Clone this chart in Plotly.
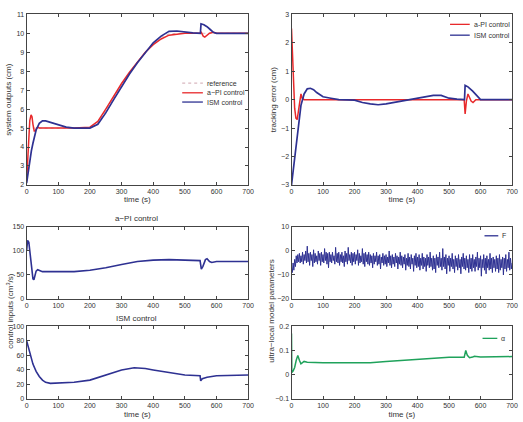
import plotly.graph_objects as go

# ---------------- data ----------------
t_ref = [0, 200, 225, 250, 275, 300, 325, 350, 375, 400, 425, 450, 475, 700]
y_ref = [5, 5, 5.25, 5.9, 6.6, 7.3, 7.9, 8.5, 9.0, 9.45, 9.8, 9.97, 10, 10]

t_api = [0, 3, 6, 10, 14, 17, 20, 24, 28, 32, 36, 40, 60, 100, 150, 200, 225, 250, 275, 300,
         325, 350, 375, 400, 425, 450, 475, 500, 525, 548, 552, 558, 563, 570, 578, 590, 600, 650, 700]
y_api = [2.2, 3.2, 4.5, 5.4, 5.7, 5.6, 5.2, 4.85, 4.85, 5.0, 5.05, 5.0, 5.0, 5.0, 5.0, 5.05, 5.35, 6.0, 6.7, 7.35,
         7.95, 8.5, 9.0, 9.4, 9.7, 9.9, 9.97, 10.0, 10.0, 10.0, 10.05, 9.85, 9.8, 9.9, 10.0, 10.05, 10.0, 10.0, 10.0]

t_ism = [0, 5, 10, 15, 20, 25, 30, 40, 50, 60, 70, 80, 100, 125, 150, 175, 200, 225, 250, 275,
         300, 325, 350, 375, 400, 425, 450, 475, 500, 525, 549, 551, 560, 570, 580, 590, 600, 650, 700]
y_ism = [2.1, 2.7, 3.3, 3.8, 4.2, 4.6, 4.9, 5.25, 5.38, 5.38, 5.33, 5.25, 5.15, 5.05, 5.0, 5.0, 5.0, 5.2, 5.8, 6.5,
         7.2, 7.85, 8.45, 9.0, 9.5, 9.85, 10.1, 10.12, 10.05, 10.02, 10.0, 10.5, 10.45, 10.35, 10.2, 10.05, 10.0, 10.0, 10.0]

t_err_api = [0, 3, 6, 10, 14, 18, 22, 26, 30, 34, 40, 60, 100, 200, 300, 400, 500, 548, 551, 555,
             560, 565, 570, 576, 585, 600, 700]
e_api = [2.5, 1.6, 0.6, -0.3, -0.65, -0.7, -0.4, 0.0, 0.2, 0.05, 0.0, 0.0, 0.0, 0.02, 0.02, 0.0, 0.0, 0.0, -0.5, -0.05,
         0.2, 0.1, -0.05, -0.1, 0.0, 0.0, 0.0]

t_err_ism = [0, 10, 20, 30, 40, 50, 60, 70, 80, 100, 125, 150, 200, 225, 250, 275, 300, 325, 350, 400,
             425, 450, 475, 500, 525, 549, 551, 560, 575, 590, 600, 700]
e_ism = [-3.0, -2.0, -1.0, -0.2, 0.2, 0.38, 0.4, 0.35, 0.25, 0.1, 0.05, 0.0, -0.02, -0.1, -0.15, -0.18, -0.15, -0.1, -0.05, 0.05,
         0.1, 0.15, 0.15, 0.05, 0.02, 0.0, 0.5, 0.45, 0.3, 0.1, 0.0, 0.0]

t_u_api = [0, 3, 7, 10, 15, 20, 23, 27, 30, 35, 40, 50, 100, 150, 200, 250, 300, 350, 400, 450,
           500, 548, 552, 557, 565, 570, 578, 585, 600, 650, 700]
u_api = [100, 122, 118, 100, 65, 42, 40, 50, 58, 61, 60, 57, 57, 57, 60, 65, 72, 78, 81, 82,
         81, 80, 62, 68, 82, 84, 78, 76, 78, 78, 78]

t_u_ism = [0, 10, 20, 30, 40, 50, 60, 75, 100, 150, 200, 250, 300, 340, 375, 400, 450, 500, 548, 550,
           555, 570, 600, 650, 700]
u_ism = [80, 62, 48, 38, 31, 26, 23, 21.5, 22, 23, 26, 33, 40, 43, 42, 40, 36, 33, 32, 25,
         28, 30, 32, 33, 33]

# F sampled every 2.5 s (0 ... 700 s)
t_F = [2.5 * i for i in range(281)]
F_vals = [-7.5, -9.0, -5.0, -8.0, -3.5, -6.5, -2.0, -5.0, -1.5, -4.5,
          -1.0, -5.0, -2.0, -4.5, -0.5, -5.5, -1.5, -4.0, 0.0, -5.0,
          2.0, -4.5, -1.0, -6.0, -0.5, -4.0, -1.5, -6.5, 0.5, -5.0,
          -1.0, -4.5, -2.0, -5.5, 0.0, -4.0, -1.0, -6.0, -0.5, -4.5,
          -1.5, -5.0, 1.0, -4.0, -0.5, -5.5, -1.0, -7.0, -0.5, -4.5,
          -1.5, -5.0, -0.5, -4.0, -2.0, -5.5, 1.5, -4.5, -1.0, -5.0,
          -0.5, -6.0, -1.5, -4.5, -0.5, -5.0, -2.0, -6.5, 0.0, -4.5,
          -1.0, -5.5, 1.5, -4.0, -1.5, -5.0, -0.5, -6.0, -1.0, -4.5,
          -0.5, -5.5, -1.5, -4.0, 0.5, -6.0, -1.0, -5.0, -2.0, -4.5,
          1.0, -5.5, -1.0, -6.5, -0.5, -4.5, -1.5, -5.5, -0.5, -6.0,
          -1.5, -5.0, -2.0, -7.0, -1.0, -5.5, -2.0, -4.5, -0.5, -6.0,
          -2.0, -5.5, -1.5, -7.5, -2.5, -5.0, -1.0, -6.0, -2.0, -5.5,
          -1.5, -6.5, -2.5, -5.0, 0.0, -6.0, -2.0, -7.0, -1.5, -5.5,
          -2.5, -6.5, -1.0, -5.0, -2.0, -7.5, -2.5, -5.5, -0.5, -6.0,
          -2.0, -7.0, -2.5, -5.5, -1.5, -8.0, -3.0, -6.0, -1.0, -6.5,
          -2.5, -7.5, -1.5, -5.5, -3.0, -8.5, -2.0, -6.0, -1.0, -7.0,
          -2.5, -6.5, -1.5, -8.0, -3.0, -6.0, -1.0, -7.5, -2.5, -6.5,
          -3.0, -8.5, -1.5, -6.0, -2.5, -7.0, -0.5, -6.5, -3.0, -8.0,
          -2.0, -7.5, -3.0, -9.0, -1.5, -6.0, -2.5, -7.0, -0.5, -6.5,
          -3.0, -8.0, 1.0, -6.5, -2.5, -7.5, -1.5, -9.5, -3.0, -6.0,
          -2.0, -8.5, -3.0, -6.5, -1.0, -7.5, -3.5, -9.0, -2.0, -6.5,
          -3.0, -8.0, -1.5, -7.0, -3.5, -9.5, -2.5, -6.5, -1.0, -7.5,
          -3.0, -8.0, -2.0, -7.0, -3.5, -9.0, -1.5, -7.5, -3.0, -8.5,
          -1.5, -7.0, -3.5, -8.5, -2.5, -6.5, -0.5, -8.0, -3.0, -7.0,
          -2.0, -10.5, -3.5, -7.0, -1.5, -8.0, -3.0, -9.5, -2.0, -7.0,
          -3.5, -8.0, -1.0, -7.5, -3.0, -9.0, -2.5, -7.0, -3.5, -8.5,
          -2.0, -7.5, -3.0, -9.0, -1.5, -8.0, -3.5, -7.0, -2.5, -10.0,
          -3.0, -7.5, -1.5, -8.5, -3.5, -7.0, -0.5, -8.0, -3.0, -7.5,
          -5.0]

t_alpha = [0, 1, 5, 10, 15, 20, 25, 30, 40, 50, 100, 200, 250, 300, 400, 450, 500, 548, 553, 558,
           565, 575, 580, 600, 700]
alpha_vals = [0.17, 0.01, 0.015, 0.03, 0.06, 0.08, 0.06, 0.045, 0.055, 0.052, 0.05, 0.05, 0.05, 0.055, 0.065, 0.07, 0.072, 0.072, 0.1, 0.08,
              0.07, 0.073, 0.076, 0.073, 0.075]

x_ticks = [0, 100, 200, 300, 400, 500, 600, 700]

# ---------------- styling ----------------
RED = "#e8292b"
BLUE = "#2e3192"
GREEN = "#1fa25b"
REFC = "#d9b8c0"
FONT = "Liberation Sans"
TXT = "#333333"
W, H = 523, 422


def px_x(p):
    return p / W


def px_y(p):
    return 1 - p / H


fig = go.Figure()

# top-left
fig.add_trace(go.Scatter(x=t_ref, y=y_ref, mode="lines", showlegend=False,
                         line=dict(color=REFC, width=1, dash="dot"), xaxis="x", yaxis="y"))
fig.add_trace(go.Scatter(x=t_api, y=y_api, mode="lines", showlegend=False,
                         line=dict(color=RED, width=1.5), xaxis="x", yaxis="y"))
fig.add_trace(go.Scatter(x=t_ism, y=y_ism, mode="lines", showlegend=False,
                         line=dict(color=BLUE, width=1.7), xaxis="x", yaxis="y"))
# top-right
fig.add_trace(go.Scatter(x=t_err_api, y=e_api, mode="lines", showlegend=False,
                         line=dict(color=RED, width=1.5), xaxis="x2", yaxis="y2"))
fig.add_trace(go.Scatter(x=t_err_ism, y=e_ism, mode="lines", showlegend=False,
                         line=dict(color=BLUE, width=1.7), xaxis="x2", yaxis="y2"))
# bottom-left
fig.add_trace(go.Scatter(x=t_u_api, y=u_api, mode="lines", showlegend=False,
                         line=dict(color=BLUE, width=1.6), xaxis="x3", yaxis="y3"))
fig.add_trace(go.Scatter(x=t_u_ism, y=u_ism, mode="lines", showlegend=False,
                         line=dict(color=BLUE, width=1.6), xaxis="x4", yaxis="y4"))
# bottom-right
fig.add_trace(go.Scatter(x=t_F, y=F_vals, mode="lines", showlegend=False,
                         line=dict(color=BLUE, width=1.0), xaxis="x5", yaxis="y5"))
fig.add_trace(go.Scatter(x=t_alpha, y=alpha_vals, mode="lines", showlegend=False,
                         line=dict(color=GREEN, width=1.5), xaxis="x6", yaxis="y6"))

LX = [px_x(25), px_x(250)]
RX = [px_x(294), px_x(518)]
TOPY = [px_y(184), px_y(10.5)]
B1Y = [px_y(300), px_y(226.7)]
B2Y = [px_y(401.7), px_y(327.7)]

axis_common = dict(showline=True, mirror="ticks", linecolor="#444444", linewidth=1,
                   ticks="inside", ticklen=3, tickcolor="#444444", showgrid=False, zeroline=False,
                   tickfont=dict(family=FONT, size=7, color=TXT))


def xax(dom, anchor, title=None):
    d = dict(axis_common, domain=dom, anchor=anchor, range=[0, 700], tickvals=x_ticks)
    if title:
        d["title"] = dict(text=title, font=dict(family=FONT, size=8, color=TXT), standoff=2)
    return d


def yax(dom, anchor, rng, dtick, title=None):
    d = dict(axis_common, domain=dom, anchor=anchor, range=rng, dtick=dtick)
    if title:
        d["title"] = dict(text=title, font=dict(family=FONT, size=8, color=TXT), standoff=3)
    return d


# ---- hand-made legends (line sample + text) ----
legend_items = [
    # (x0, x1, y, color, dash, text)
    (183, 204, 80.5, REFC, "dot", "reference"),
    (183, 204, 90.3, RED, "solid", "a\u2212PI control"),
    (183, 204, 99.7, BLUE, "solid", "ISM control"),
    (455, 475, 20.7, RED, "solid", "a-PI control"),
    (455, 475, 31.7, BLUE, "solid", "ISM control"),
    (490, 504, 235.7, BLUE, "solid", "F"),
    (488, 503, 340.0, GREEN, "solid", "\u03b1"),
]
shapes = []
annotations = []
for x0, x1, yy, col, dash, txt in legend_items:
    shapes.append(dict(type="line", xref="paper", yref="paper",
                       x0=px_x(x0), x1=px_x(x1), y0=px_y(yy), y1=px_y(yy),
                       line=dict(color=col, width=1.3, dash=dash)))
    annotations.append(dict(text=txt, x=px_x(x1 + 2), y=px_y(yy), xref="paper", yref="paper",
                            xanchor="left", yanchor="middle", showarrow=False,
                            font=dict(family=FONT, size=7, color=TXT)))

annotations += [
    dict(text="a\u2212PI control", x=px_x(137), y=px_y(218), xref="paper", yref="paper",
         xanchor="center", yanchor="middle", showarrow=False, font=dict(family=FONT, size=8, color=TXT)),
    dict(text="ISM control", x=px_x(137), y=px_y(320), xref="paper", yref="paper",
         xanchor="center", yanchor="middle", showarrow=False, font=dict(family=FONT, size=8, color=TXT)),
    dict(text="control inputs (cm<sup>3</sup>/s)", x=px_x(8), y=px_y(312), xref="paper", yref="paper",
         xanchor="center", yanchor="middle", showarrow=False, textangle=-90,
         font=dict(family=FONT, size=8, color=TXT)),
    dict(text="ultra\u2212local model parameters", x=px_x(274), y=px_y(312), xref="paper", yref="paper",
         xanchor="center", yanchor="middle", showarrow=False, textangle=-90,
         font=dict(family=FONT, size=8, color=TXT)),
]

fig.update_layout(
    width=W, height=H, margin=dict(l=0, r=0, t=0, b=0),
    paper_bgcolor="white", plot_bgcolor="white",
    font=dict(family=FONT, color=TXT),
    showlegend=False,
    xaxis=xax(LX, "y", "time (s)"),
    yaxis=yax(TOPY, "x", [2, 11], 1, "system outputs (cm)"),
    xaxis2=xax(RX, "y2", "time (s)"),
    yaxis2=yax(TOPY, "x2", [-3, 3], 1, "tracking error (cm)"),
    xaxis3=xax(LX, "y3"),
    yaxis3=yax(B1Y, "x3", [0, 150], 50),
    xaxis4=xax(LX, "y4", "time (s)"),
    yaxis4=yax(B2Y, "x4", [0, 100], 20),
    xaxis5=xax(RX, "y5"),
    yaxis5=yax(B1Y, "x5", [-20, 10], 10),
    xaxis6=xax(RX, "y6", "time (s)"),
    yaxis6=yax(B2Y, "x6", [-0.1, 0.2], 0.1),
    shapes=shapes,
    annotations=annotations,
)

fig.write_html("out.html")
